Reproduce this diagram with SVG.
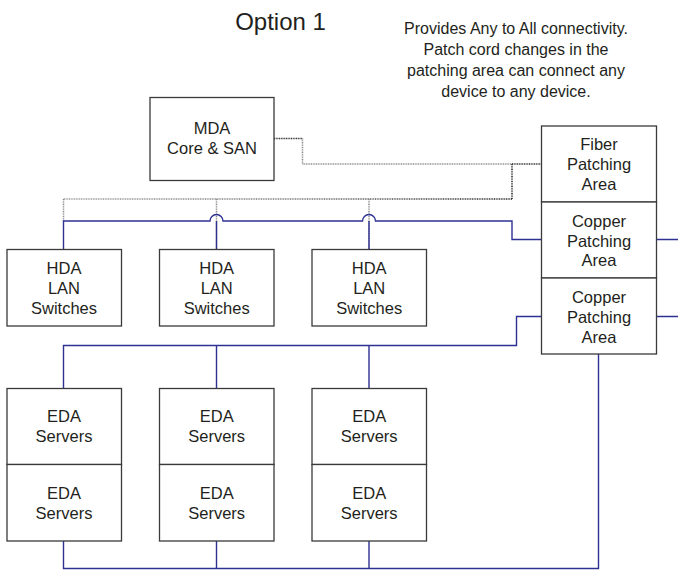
<svg xmlns="http://www.w3.org/2000/svg" width="678" height="570" viewBox="0 0 678 570">
<style>
  .box { fill: #fff; stroke: #3a3a3a; stroke-width: 1.3; }
  .div { stroke: #3a3a3a; stroke-width: 1.3; fill: none; }
  .t { font-family: "Liberation Sans", Arial, sans-serif; font-size: 16.5px; fill: #231f20; text-anchor: middle; }
  .title { font-family: "Liberation Sans", Arial, sans-serif; font-size: 24px; fill: #231f20; text-anchor: middle; }
  .desc { font-family: "Liberation Sans", Arial, sans-serif; font-size: 16px; fill: #231f20; text-anchor: middle; }
  .cu { fill: none; stroke: #2e3192; stroke-width: 1.4; }
  .fg { fill: none; stroke: #8c8c8c; stroke-width: 1.5; stroke-dasharray: 1 0.7; }
  .fd { fill: none; stroke: #2a2a2a; stroke-width: 1.5; stroke-dasharray: 1 0.7; }
</style>
<defs>
  <linearGradient id="fgrad" gradientUnits="userSpaceOnUse" x1="63" y1="0" x2="512" y2="0">
    <stop offset="0" stop-color="#9a9a9a"/>
    <stop offset="0.5" stop-color="#777"/>
    <stop offset="1" stop-color="#222"/>
  </linearGradient>
</defs>

<text class="title" x="280.5" y="29.5">Option 1</text>
<g id="note">
  <text class="desc" x="516" y="34">Provides Any to All connectivity.</text>
  <text class="desc" x="516" y="55">Patch cord changes in the</text>
  <text class="desc" x="516" y="76">patching area can connect any</text>
  <text class="desc" x="516" y="97">device to any device.</text>
</g>

<g id="connectors">
  <!-- fiber -->
  <path class="fd" d="M274,138.5 H302.5"/>
  <path class="fg" d="M302.5,138.5 V164 H512"/>
  <path class="fd" d="M512,164 H541 M512,164 V199"/>
  <path fill="none" stroke="url(#fgrad)" stroke-width="1.5" stroke-dasharray="1 0.7" d="M512,199 H63"/>
  <path class="fg" d="M63.5,199 V221 M216.5,199 V250 M369,199 V250"/>
  <!-- copper to HDA -->
  <path class="cu" d="M541,239.5 H512 V221 H375.5 A6.5,6.5 0 0 0 362.5,221 H223 A6.5,6.5 0 0 0 210,221 H63.5 V249.5"/>
  <path class="cu" d="M216.5,221 V249.5 M369,221 V249.5"/>
  <!-- copper to EDA -->
  <path class="cu" d="M541,316.5 H516.5 V345.5 H63.5 V388.5 M216.5,345.5 V388.5 M369,345.5 V388.5"/>
  <!-- bottom copper -->
  <path class="cu" d="M63.5,541 V568.5 H598.5 V354 M216.5,541 V568.5 M369,541 V568.5"/>
  <!-- right stubs -->
  <path class="cu" d="M656,239.5 H678 M656,316.5 H678"/>
</g>

<g id="mda">
  <rect class="box" x="150" y="97.5" width="124" height="83"/>
  <text class="t" x="212" y="133.5">MDA</text>
  <text class="t" x="212" y="153.5">Core &amp; SAN</text>
</g>

<g id="patching">
  <g id="fiber-patching">
    <rect class="box" x="541.5" y="126" width="115" height="76"/>
    <text class="t" x="599" y="150">Fiber</text>
    <text class="t" x="599" y="170">Patching</text>
    <text class="t" x="599" y="189.5">Area</text>
  </g>
  <g id="copper-patching-1">
    <rect class="box" x="541.5" y="202" width="115" height="76"/>
    <text class="t" x="599" y="226.5">Copper</text>
    <text class="t" x="599" y="246.5">Patching</text>
    <text class="t" x="599" y="266">Area</text>
  </g>
  <g id="copper-patching-2">
    <rect class="box" x="541.5" y="278" width="115" height="76"/>
    <text class="t" x="599" y="302.5">Copper</text>
    <text class="t" x="599" y="322.5">Patching</text>
    <text class="t" x="599" y="342.5">Area</text>
  </g>
</g>

<g id="hda-1">
  <rect class="box" x="7" y="249.5" width="114.5" height="76.5"/>
  <text class="t" x="64" y="273.5">HDA</text>
  <text class="t" x="64" y="293.5">LAN</text>
  <text class="t" x="64" y="313.5">Switches</text>
</g>
<g id="hda-2">
  <rect class="box" x="159.5" y="249.5" width="114.5" height="76.5"/>
  <text class="t" x="216.7" y="273.5">HDA</text>
  <text class="t" x="216.7" y="293.5">LAN</text>
  <text class="t" x="216.7" y="313.5">Switches</text>
</g>
<g id="hda-3">
  <rect class="box" x="312" y="249.5" width="114.5" height="76.5"/>
  <text class="t" x="369.2" y="273.5">HDA</text>
  <text class="t" x="369.2" y="293.5">LAN</text>
  <text class="t" x="369.2" y="313.5">Switches</text>
</g>

<g id="eda-1">
  <rect class="box" x="7" y="388.5" width="114.5" height="76"/>
  <text class="t" x="64" y="422">EDA</text>
  <text class="t" x="64" y="442">Servers</text>
</g>
<g id="eda-2">
  <rect class="box" x="7" y="464.5" width="114.5" height="76.5"/>
  <text class="t" x="64" y="498.5">EDA</text>
  <text class="t" x="64" y="518.5">Servers</text>
</g>
<g id="eda-3">
  <rect class="box" x="159.5" y="388.5" width="114.5" height="76"/>
  <text class="t" x="216.7" y="422">EDA</text>
  <text class="t" x="216.7" y="442">Servers</text>
</g>
<g id="eda-4">
  <rect class="box" x="159.5" y="464.5" width="114.5" height="76.5"/>
  <text class="t" x="216.7" y="498.5">EDA</text>
  <text class="t" x="216.7" y="518.5">Servers</text>
</g>
<g id="eda-5">
  <rect class="box" x="312" y="388.5" width="114.5" height="76"/>
  <text class="t" x="369.2" y="422">EDA</text>
  <text class="t" x="369.2" y="442">Servers</text>
</g>
<g id="eda-6">
  <rect class="box" x="312" y="464.5" width="114.5" height="76.5"/>
  <text class="t" x="369.2" y="498.5">EDA</text>
  <text class="t" x="369.2" y="518.5">Servers</text>
</g>
</svg>
